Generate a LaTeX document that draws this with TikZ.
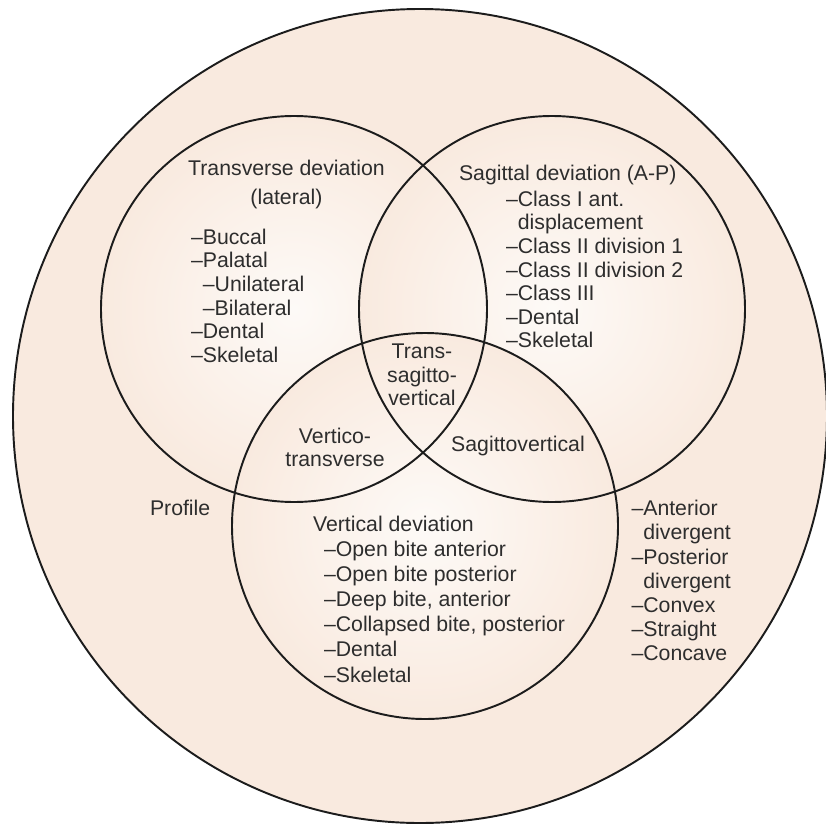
\documentclass[tikz,border=0pt]{standalone}
\usepackage{fontspec}
\setmainfont{Liberation Sans}
\usepackage{tikz}
\usepackage{xcolor}
\definecolor{Cpe}{HTML}{F9EADF}
\definecolor{Cgl}{HTML}{FDFAF7}
\definecolor{Cln}{HTML}{1C1C1C}
\definecolor{Ctx}{HTML}{2D2D2D}
\tikzset{
  ring/.style = {draw=Cln, line width=1.1pt},
  glow/.style = {inner color=Cgl, outer color=Cpe},
  txt/.style  = {font=\fontsize{12.1}{13.4}\selectfont, text=Ctx,
                 inner sep=0pt, outer sep=0pt, align=left},
  ttl/.style  = {txt, align=center},
}

\begin{document}
\begin{tikzpicture}[x=1cm, y=1.0cm]

\fill[white] (0,0) rectangle (16.5,-16.54);
\useasboundingbox (0,0) rectangle (16.5,-16.54);

%%──────────────────────────────────────────────────
%% Circles
%%──────────────────────────────────────────────────
\coordinate (prof) at (8.40,-8.32);
\coordinate (tr)   at (5.88,-6.18);
\coordinate (sg)   at (11.04,-6.18);
\coordinate (vt)   at (8.50,-10.52);

\fill[Cpe] (prof) circle[radius=8.14];
\foreach \c in {tr,sg,vt}
  \shade[glow] (\c) circle[radius=3.86];

\draw[ring] (prof) circle[radius=8.14];
\foreach \c in {tr,sg,vt}
  \draw[ring] (\c) circle[radius=3.86];

%%──────────────────────────────────────────────────
%% Transverse
%%──────────────────────────────────────────────────
\node[ttl, anchor=north] (trtitle) at (5.73,-3.20)
  {Transverse deviation\\[3pt](lateral)};
\node[txt, anchor=north west] (trlist) at (3.82,-4.58)
  {--Buccal\\--Palatal\\\phantom{--}--Unilateral\\\phantom{--}--Bilateral\\--Dental\\--Skeletal};

%%──────────────────────────────────────────────────
%% Sagittal
%%──────────────────────────────────────────────────
\node[txt, anchor=north west] (sgtitle) at (9.18,-3.30)
  {Sagittal deviation (A-P)};
\node[txt, anchor=north west] (sglist) at (10.12,-3.82)
  {--Class I ant.\\\phantom{--}displacement\\--Class II division 1\\--Class II division 2\\--Class III\\--Dental\\--Skeletal};

%%──────────────────────────────────────────────────
%% Overlaps
%%──────────────────────────────────────────────────
\node[ttl, anchor=north] (tsv) at (8.44,-6.88) {Trans-\\sagitto-\\vertical};
\node[ttl, anchor=north] (vtr) at (6.70,-8.56) {Vertico-\\transverse};
\node[ttl, anchor=north] (sgv) at (10.36,-8.72) {Sagittovertical};

%%──────────────────────────────────────────────────
%% Vertical
%%──────────────────────────────────────────────────
\node[txt, anchor=north west] (vttitle) at (6.26,-10.32) {Vertical deviation};
\node[txt, anchor=north west, font=\fontsize{12.1}{14.3}\selectfont] (vtlist) at (6.48,-10.82)
  {--Open bite anterior\\--Open bite posterior\\--Deep bite, anterior\\--Collapsed bite, posterior\\--Dental\\--Skeletal};

%%──────────────────────────────────────────────────
%% Profile
%%──────────────────────────────────────────────────
\node[txt, anchor=north west] (proftxt) at (3.00,-10.00) {Profile};
\node[txt, anchor=north west, font=\fontsize{12.1}{13.7}\selectfont] (proflist) at (12.63,-10.01)
  {--Anterior\\\phantom{--}divergent\\--Posterior\\\phantom{--}divergent\\--Convex\\--Straight\\--Concave};

\end{tikzpicture}
\end{document}
